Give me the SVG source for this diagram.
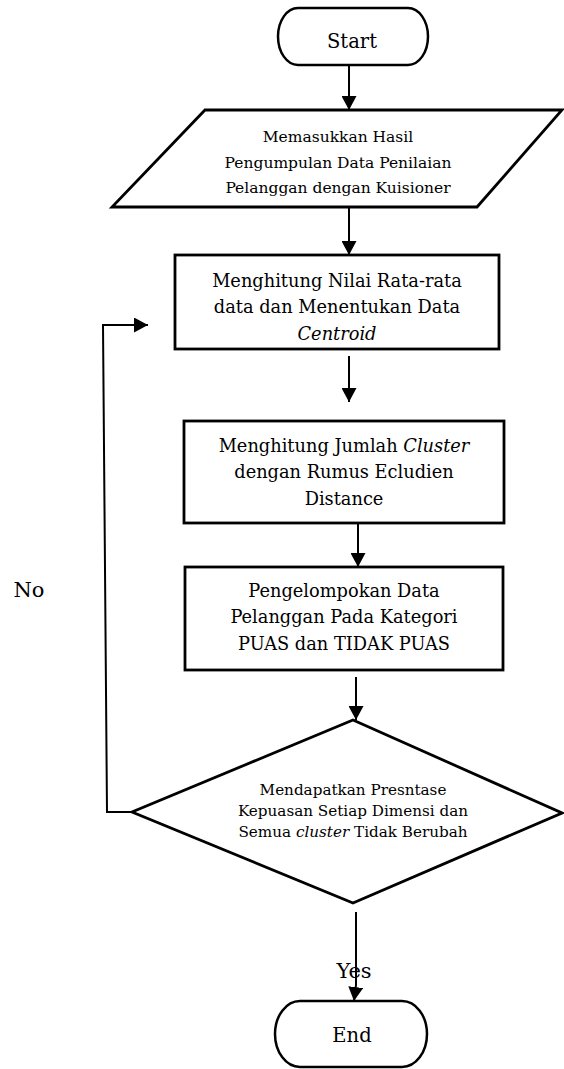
<svg xmlns="http://www.w3.org/2000/svg" width="564" height="1069" viewBox="0 0 564 1069">
<style>
.shape{fill:#fff;stroke:#000;stroke-width:2.8}
.term{fill:#fff;stroke:#000;stroke-width:2.5}
.conn{fill:none;stroke:#000;stroke-width:2}
text{font-family:"DejaVu Serif","Liberation Serif",serif;fill:#000;text-anchor:middle}
.t1{font-size:19.5px}
.t2{font-size:17.8px}
.t3{font-size:15.5px}
.t4{font-size:15.2px}
.lbl{font-size:21px}
.it{font-style:italic}
</style>
<defs>
<marker id="arr" markerUnits="userSpaceOnUse" markerWidth="15" markerHeight="15" refX="14" refY="7.5" orient="auto">
<path d="M0,0 L14,7.5 L0,15 Z" fill="#000"/>
</marker>
</defs>
<rect width="564" height="1069" fill="#fff"/>
<g id="connectors">
<line class="conn" x1="349" y1="65" x2="349" y2="110" marker-end="url(#arr)"/>
<line class="conn" x1="349" y1="207" x2="349" y2="255" marker-end="url(#arr)"/>
<line class="conn" x1="349" y1="356" x2="349" y2="402" marker-end="url(#arr)"/>
<line class="conn" x1="358" y1="523" x2="358" y2="567" marker-end="url(#arr)"/>
<line class="conn" x1="356" y1="677" x2="356" y2="720" marker-end="url(#arr)"/>
<path class="conn" d="M356,912 L356,985 L354,1001" marker-end="url(#arr)"/>
<path class="conn" d="M132,812 H107 L103,325 H148" marker-end="url(#arr)"/>
</g>
<g id="start">
<rect class="term" x="278" y="8" width="150" height="57" rx="20" ry="28.5"/>
<text class="t1" x="352" y="48">Start</text>
</g>
<g id="input">
<polygon class="shape" points="205,110 562,110 477,207 112,207"/>
<text class="t3" x="338" y="142">Memasukkan Hasil</text>
<text class="t3" x="338" y="168">Pengumpulan Data Penilaian</text>
<text class="t3" x="338" y="193">Pelanggan dengan Kuisioner</text>
</g>
<g id="proc1">
<rect class="shape" x="175" y="255" width="324" height="94"/>
<text class="t2" x="337" y="287">Menghitung Nilai Rata-rata</text>
<text class="t2" x="337" y="313">data dan Menentukan Data</text>
<text class="t2 it" x="337" y="340">Centroid</text>
</g>
<g id="proc2">
<rect class="shape" x="184" y="421" width="320" height="102"/>
<text class="t2" x="344" y="452">Menghitung Jumlah <tspan class="it">Cluster</tspan></text>
<text class="t2" x="344" y="478">dengan Rumus Ecludien</text>
<text class="t2" x="344" y="505">Distance</text>
</g>
<g id="proc3">
<rect class="shape" x="185" y="567" width="318" height="103"/>
<text class="t2" x="344" y="597">Pengelompokan Data</text>
<text class="t2" x="344" y="623">Pelanggan Pada Kategori</text>
<text class="t2" x="344" y="650">PUAS dan TIDAK PUAS</text>
</g>
<g id="decision">
<polygon class="shape" points="353,720 562,813 353,903 132,812"/>
<text class="t4" x="353" y="795">Mendapatkan Presntase</text>
<text class="t4" x="353" y="816">Kepuasan Setiap Dimensi dan</text>
<text class="t4" x="353" y="837">Semua <tspan class="it">cluster</tspan> Tidak Berubah</text>
</g>
<g id="end">
<rect class="term" x="275" y="1001" width="152" height="66" rx="25" ry="33"/>
<text class="t1" x="352" y="1042">End</text>
</g>
<g id="labels">
<text class="lbl" x="29" y="597">No</text>
<text class="lbl" x="354" y="978">Yes</text>
</g>
</svg>
